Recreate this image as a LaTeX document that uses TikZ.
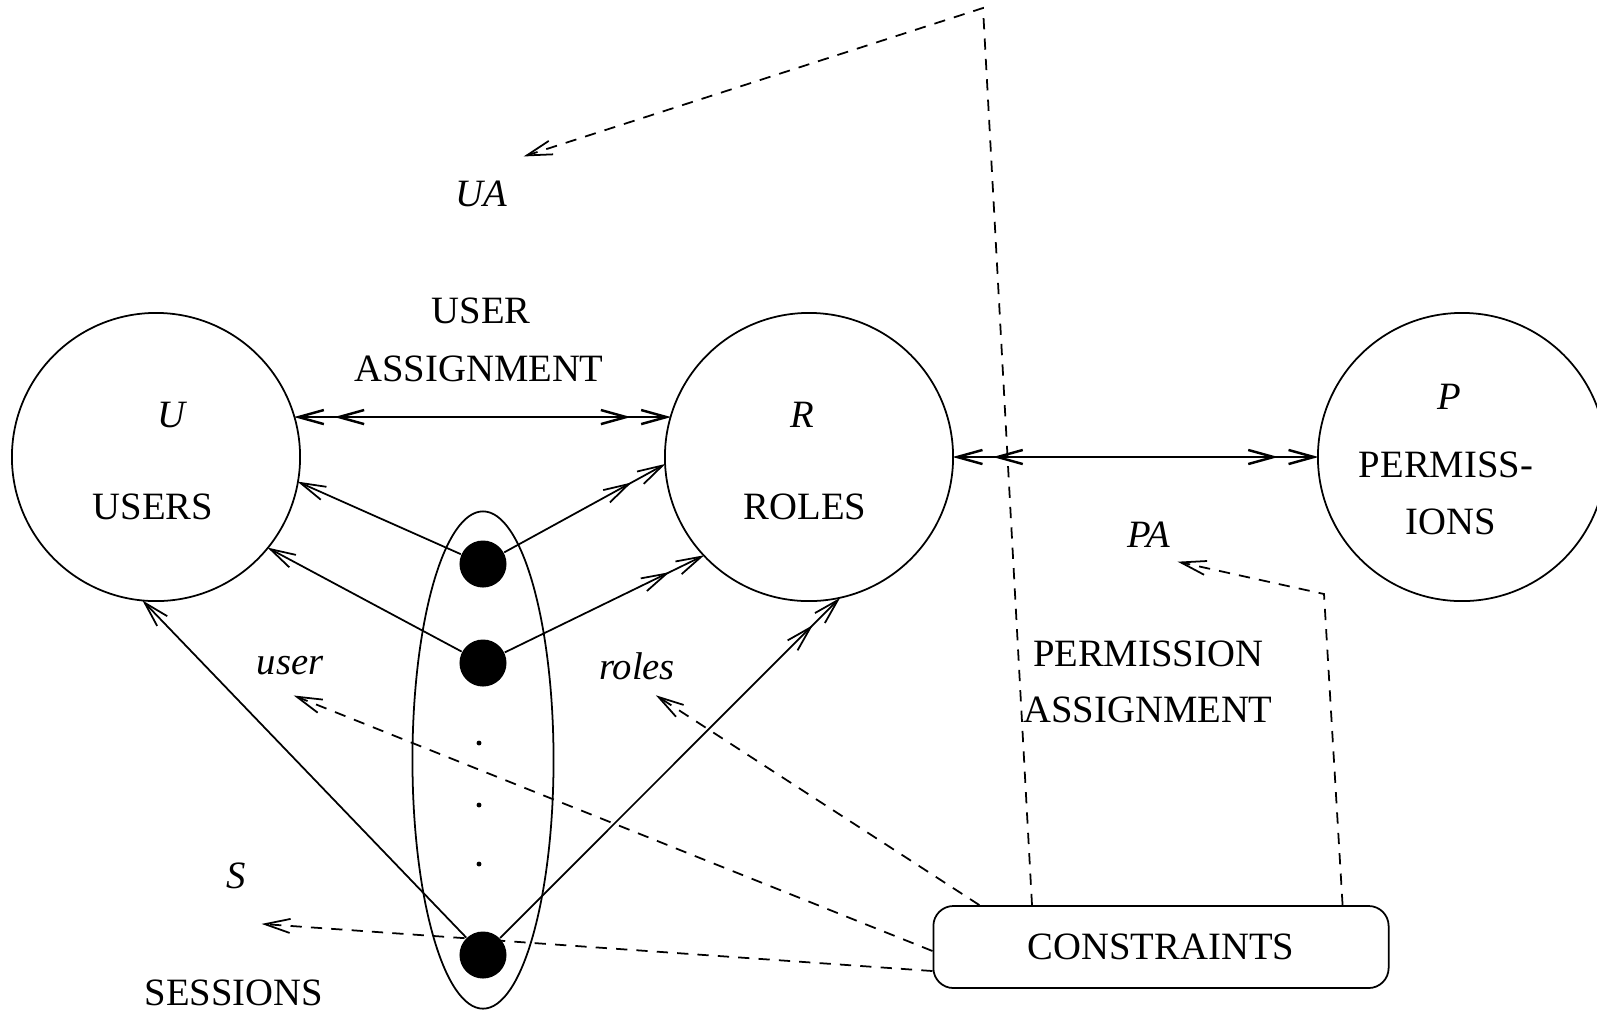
\documentclass[tikz,border=0pt]{standalone}
\usepackage{fontspec}
\setmainfont{Liberation Serif}
\usetikzlibrary{arrows.meta,shapes.geometric}

\begin{document}
\begin{tikzpicture}[
    x=0.01cm, y=-0.01cm,
    font=\fontsize{11}{13}\selectfont,
    set/.style={circle, draw=black, line width=0.5pt,
        minimum size=2.88cm, inner sep=0pt},
    session/.style={circle, fill=black, minimum size=0.47cm, inner sep=0pt},
    tinydot/.style={circle, fill=black, minimum size=1.4pt, inner sep=0pt},
    conbox/.style={draw=black, line width=0.5pt, rounded corners=0.2cm,
        minimum width=4.55cm, minimum height=0.82cm},
    tag/.style={font=\fontsize{11}{13}\selectfont\itshape},
    barb/.tip={Straight Barb[length=7.2pt, width=4pt, sep=2.6pt]},
    one/.style={line width=0.5pt, -{barb[]}, shorten >=-3pt},
    many/.style={line width=0.5pt, -{barb[]barb[]}, shorten >=-3pt},
    manymany/.style={line width=0.7pt, {barb[]barb[]}-{barb[]barb[]},
        shorten >=-3pt, shorten <=-3pt},
    cline/.style={line width=0.5pt, dash pattern=on 3.2pt off 2.6pt,
        -{barb[]}, shorten >=-3pt}
]
    \useasboundingbox (0,0) rectangle (1597,1011);

    % the three sets
    \node[set] (U) at (156,457) {};
    \node[set] (R) at (809,457) {};
    \node[set] (P) at (1462,457) {};
    \node (u-name) at (173,415) {\textit{U}};
    \node (u-text) at (153,507) {USERS};
    \node (r-name) at (802,415) {\textit{R}};
    \node (r-text) at (805,507) {ROLES};
    \node (p-name) at (1449,397) {\textit{P}};
    \node (p-text1) at (1446,465) {PERMISS-};
    \node (p-text2) at (1451,522) {IONS};

    % sessions
    \node[ellipse, draw=black, line width=0.5pt, minimum width=1.41cm,
        minimum height=4.97cm, inner sep=0pt] (sess) at (483,760) {};
    \node[session] (s1) at (483,564) {};
    \node[session] (s2) at (483,663) {};
    \node[session] (s3) at (483,955) {};
    \node[tinydot] (d1) at (479,743) {};
    \node[tinydot] (d2) at (479,805) {};
    \node[tinydot] (d3) at (479,864) {};

    \node[conbox] (cons) at (1161,947) {CONSTRAINTS};

    % labels
    \node (ua-text1) at (481,311) {USER};
    \node (ua-text2) at (479,369) {ASSIGNMENT};
    \node (pa-text1) at (1148,654) {PERMISSION};
    \node (pa-text2) at (1148,710) {ASSIGNMENT};
    \node (ses-text) at (234,993) {SESSIONS};
    \node[tag] (ua) at (481,194) {UA};
    \node[tag] (pa) at (1149,535) {PA};
    \node[tag] (usr) at (290,666) {user};
    \node[tag] (rls) at (637,666) {roles};
    \node[tag] (ses) at (236,876) {S};

    % assignments
    \draw[manymany] (U.16) -- (R.164);
    \draw[manymany] (R.east) -- (P.west);
    \draw[one] (s1) -- (U.-10);
    \draw[one] (s2) -- (U.-39);
    \draw[one] (s3) -- (U.-95);
    \draw[many] (s1) -- (R.183);
    \draw[many] (s2) -- (R.223);
    \draw[many] (s3) -- (R.-78);

    % constraints
    \coordinate (ua-bend) at (983,8);
    \coordinate (pa-bend) at (1324,594);
    \coordinate (ua-tip) at (525,156);
    \coordinate (pa-tip) at (1179,562);
    \coordinate (usr-tip) at (295,696);
    \coordinate (rls-tip) at (657,696);
    \coordinate (ses-tip) at (263,924);
    \draw[cline] (cons.162.4) -- (ua-bend) -- (ua-tip);
    \draw[cline] (cons.13) -- (pa-bend) -- (pa-tip);
    \draw[cline] (cons.167) -- (rls-tip);
    \draw[cline] (cons.181) -- (usr-tip);
    \draw[cline] (cons.186.5) -- (ses-tip);
\end{tikzpicture}
\end{document}
